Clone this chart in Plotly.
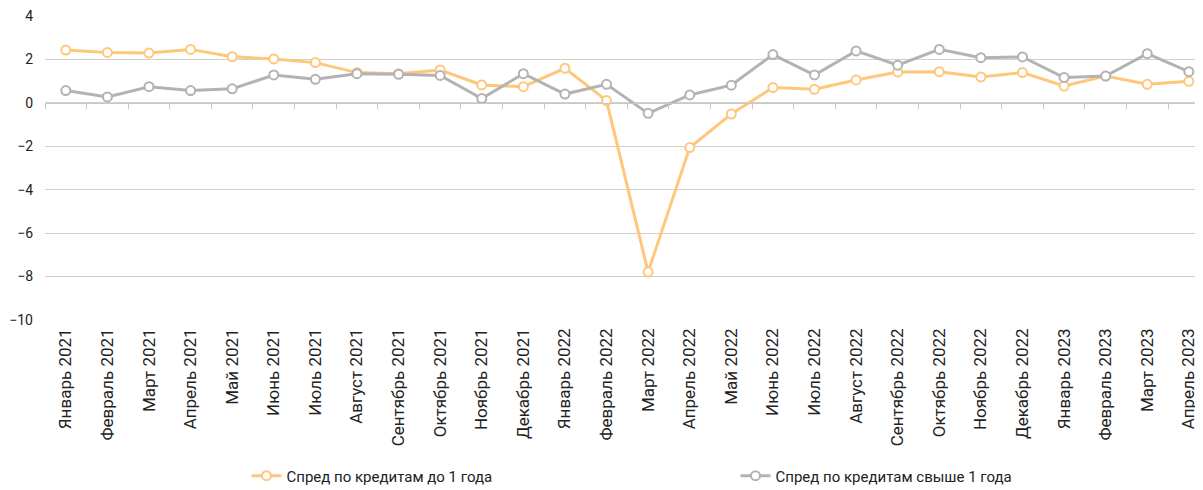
import plotly.graph_objects as go

months = ["Январь 2021", "Февраль 2021", "Март 2021", "Апрель 2021", "Май 2021", "Июнь 2021",
          "Июль 2021", "Август 2021", "Сентябрь 2021", "Октябрь 2021", "Ноябрь 2021", "Декабрь 2021",
          "Январь 2022", "Февраль 2022", "Март 2022", "Апрель 2022", "Май 2022", "Июнь 2022",
          "Июль 2022", "Август 2022", "Сентябрь 2022", "Октябрь 2022", "Ноябрь 2022", "Декабрь 2022",
          "Январь 2023", "Февраль 2023", "Март 2023", "Апрель 2023"]

spread_short = [2.44, 2.33, 2.30, 2.47, 2.13, 2.03, 1.86, 1.40, 1.35, 1.52, 0.83, 0.75,
                1.60, 0.11, -7.80, -2.06, -0.51, 0.71, 0.63, 1.06, 1.43, 1.44, 1.20, 1.40,
                0.78, 1.24, 0.86, 1.00]
spread_long = [0.57, 0.28, 0.75, 0.57, 0.65, 1.29, 1.09, 1.35, 1.32, 1.27, 0.20, 1.35,
               0.41, 0.86, -0.48, 0.37, 0.82, 2.23, 1.29, 2.40, 1.74, 2.47, 2.09, 2.12,
               1.17, 1.24, 2.27, 1.44]

name_short = "Спред по кредитам до 1 года"
name_long = "Спред по кредитам свыше 1 года"
y_ticks = [4, 2, 0, -2, -4, -6, -8, -10]

ORANGE = "#FFC77C"
GRAY = "#B3B3B3"
FONT = "Roboto, 'Open Sans', sans-serif"

fig = go.Figure()
for name, vals, col in [(name_short, spread_short, ORANGE), (name_long, spread_long, GRAY)]:
    fig.add_trace(go.Scatter(
        x=months, y=vals, name=name, mode="lines+markers",
        line=dict(color=col, width=3),
        marker=dict(symbol="circle", size=9, color="white", line=dict(color=col, width=2)),
    ))

# invisible helper trace on the zero-line axis (for tick marks at category boundaries)
fig.add_trace(go.Scatter(x=months, y=spread_long, xaxis="x2", mode="lines",
                         line=dict(width=0, color="rgba(0,0,0,0)"), showlegend=False,
                         hoverinfo="skip"))

xr = [-0.5, 27.34]
yr = [-10.01, 4.01]
fig.update_layout(
    width=1195, height=482,
    margin=dict(l=37, r=0, t=8, b=170, autoexpand=False),
    paper_bgcolor="white", plot_bgcolor="white",
    font=dict(family=FONT, size=14, color="#222222"),
    xaxis=dict(type="category", categoryorder="array", categoryarray=months, range=xr,
               tickangle=-90, showgrid=False, zeroline=False, showline=False, ticks="",
               automargin=False, ticklabelstandoff=4,
               tickfont=dict(size=17, color="#222222")),
    xaxis2=dict(type="category", categoryorder="array", categoryarray=months, range=xr,
                overlaying="x", anchor="free", position=(0 - yr[0]) / (yr[1] - yr[0]),
                showticklabels=False,
                showgrid=False, zeroline=False, showline=True, linecolor="#C8C8C8", linewidth=1,
                ticks="outside", ticklen=5, tickcolor="#C8C8C8", tickwidth=1,
                tickson="boundaries", automargin=False),
    yaxis=dict(range=yr, tickvals=y_ticks, showgrid=True, gridcolor="#D0D0D0",
               gridwidth=1, zeroline=False, showline=False, ticks="", automargin=False,
               ticklabelstandoff=11, tickfont=dict(size=14, color="#222222")),
    legend=dict(orientation="h", x=0.174, y=-0.513, xanchor="left", yanchor="middle",
                entrywidth=444, entrywidthmode="pixels", font=dict(size=15, color="#222222"),
                bgcolor="rgba(0,0,0,0)"),
    showlegend=True,
)

fig.write_html("out.html")
